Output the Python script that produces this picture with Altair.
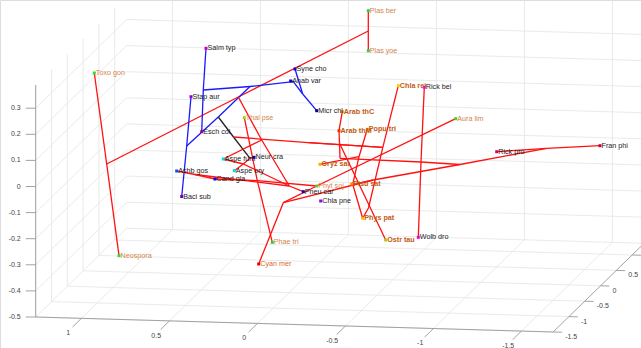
import altair as alt
import pandas as pd
import numpy as np

W, H = 641, 348

# ---------------- data: leaves (projected view coordinates) ----------------
leaf_names = ["Plas ber", "Plas yoe", "Toxo gon", "Neospora", "Salm typ", "Syne cho",
              "Anab var", "Micr chl", "Stap aur", "Thal pse", "Esch col", "Chla rei",
              "Rick bel", "Arab thC", "Arab thM", "Popu tri", "Aura lim", "Rick pro",
              "Fran phi", "Aspe fum", "Neur cra", "Aspe ory", "Ashb gos", "Cand gla",
              "Oryz sat", "Phyt soj", "Pisu sat", "Pneu car", "Baci sub", "Chla pne",
              "Phys pat", "Ostr tau", "Wolb dro", "Phae tri", "Cyan mer"]
leaf_u = [368.3, 368.3, 94.3, 119.0, 206.0, 295.0, 290.7, 316.7, 191.0, 244.3, 201.7, 398.3,
          424.3, 342.3, 339.0, 367.3, 455.7, 496.7, 600.0, 223.3, 254.0, 234.3, 176.7, 215.0,
          320.0, 316.7, 351.7, 303.3, 181.7, 320.7, 362.7, 385.7, 418.3, 272.3, 258.7]
leaf_v = [10.7, 50.7, 73.0, 255.7, 48.3, 69.0, 81.0, 110.7, 96.7, 117.7, 131.7, 85.7,
          87.3, 111.7, 130.7, 129.3, 118.7, 151.7, 145.7, 159.0, 157.3, 170.7, 171.0, 179.0,
          164.3, 186.0, 184.0, 191.7, 196.5, 201.0, 218.3, 240.0, 237.3, 242.3, 264.0]
marker_col = ["#33cc55", "#33cc55", "#33dd33", "#33dd33", "#cc00cc", "#0000ee",
              "#0000cc", "#000099", "#9900cc", "#88dd22", "#990099", "#ffcc00",
              "#ff00ff", "#ff8800", "#ee3300", "#ff8800", "#55cc22", "#dd0066",
              "#cc0033", "#00dddd", "#0000cc", "#00dddd", "#0055ff", "#0000ee",
              "#ffaa00", "#66cc22", "#ff8800", "#0000cc", "#6600cc", "#9900ff",
              "#ffbb00", "#aacc00", "#ee00cc", "#33cc33", "#ee0000"]
# label class: 0 = black, 1 = light orange, 2 = bold orange-brown, 3 = orange
label_cls = [1, 1, 1, 1, 0, 0, 0, 0, 0, 1, 0, 2,
             0, 2, 2, 2, 1, 0, 0, 0, 0, 0, 0, 0,
             2, 1, 2, 0, 0, 0, 2, 2, 0, 1, 3]

# internal (branching) nodes
inner_names = ["A1", "A2", "P1", "B1", "B2", "B3", "B4", "B5", "B6", "F1", "R1", "R2",
               "K1", "C1", "E1", "E2", "N1", "X1", "F2", "Y1", "D1", "V1", "V2", "PN",
               "Q1", "M1", "O1", "C2"]
inner_u = [106.7, 238.3, 368.3, 203.3, 250.0, 293.3, 302.7, 218.3, 186.7, 250.0, 421.0, 546.7,
           233.5, 382.8, 308.3, 283.3, 289.3, 261.7, 243.3, 195.0, 257.3, 340.0, 339.5, 352.7,
           460.0, 373.3, 359.0, 368.5]
inner_v = [164.0, 97.0, 31.0, 90.0, 86.5, 81.7, 94.0, 117.0, 146.0, 158.3, 162.0, 148.3,
           137.0, 147.3, 142.7, 202.7, 186.0, 140.0, 164.0, 174.5, 180.7, 158.3, 143.3, 184.3,
           164.5, 180.0, 156.7, 208.0]

edge_from = ["Toxo gon", "A1", "A1", "A2", "P1", "P1",
             "Salm typ", "B1", "B1", "B2", "B3", "Syne cho", "B3", "B4", "B2", "B5", "Stap aur", "B6",
             "B5", "K1",
             "Rick bel", "R1", "Rick pro", "R2",
             "A2", "X1", "N1", "Aspe fum", "Aspe fum", "Aspe ory", "F2", "F1", "F2",
             "Ashb gos", "Y1", "Y1", "Cand gla", "D1",
             "Thal pse", "D1", "K1", "E1", "Cyan mer", "E2", "E1",
             "E2", "Phyt soj", "E2", "M1", "Q1",
             "Chla rei", "C1", "C2",
             "Arab thC", "Arab thM", "V2", "V1", "R1", "V2", "PN", "Popu tri", "O1", "Oryz sat",
             "PN", "PN"]
edge_to = ["A1", "Neospora", "A2", "P1", "Plas ber", "Plas yoe",
           "B1", "Esch col", "B2", "B3", "Anab var", "B4", "B4", "Micr chl", "B5", "B6", "B6", "Baci sub",
           "K1", "F1",
           "R1", "Wolb dro", "R2", "Fran phi",
           "X1", "N1", "Pneu car", "X1", "F2", "F2", "F1", "Neur cra", "N1",
           "Y1", "Cand gla", "N1", "D1", "Phyt soj",
           "D1", "Phae tri", "E1", "C1", "E2", "E2", "C1",
           "Phyt soj", "Aura lim", "M1", "Q1", "R2",
           "C1", "C2", "Phys pat",
           "Arab thM", "V2", "V1", "R1", "Q1", "Ostr tau", "M1", "O1", "PN", "O1",
           "Phys pat", "Pisu sat"]
edge_col = (["red"] * 6 + ["blue"] * 12 + ["black"] * 2 + ["red"] * 4 +
            ["red"] * (len(edge_from) - 24))

# ---------------- axes of the 3-D box ----------------
x_ticks = [1, 0.5, 0, -0.5, -1, -1.5]
y_ticks = [-1.5, -1, -0.5, 0, 0.5, 1]
z_ticks = [-0.5, -0.4, -0.3, -0.2, -0.1, 0, 0.1, 0.2, 0.3]
XMAX, XMIN, YMIN, YMAX, ZMIN, ZMAX = 1.26, -1.68, -1.5, 1.38, -0.5, 0.389
FONT = "Liberation Sans"


def proj(X, Y, Z):
    u = 35.7 + (XMAX - X) * 176.0 + (Y - YMIN) * 31.6
    v = 317.0 + (XMAX - X) * 5.1 - (Y - YMIN) * 30.8 - (Z - ZMIN) * 261.0
    return u, v


def seg(p, q, kind):
    return {"u": p[0], "v": p[1], "u2": q[0], "v2": q[1], "kind": kind}


grid = []
for X in x_ticks:
    grid.append(seg(proj(X, YMIN, ZMIN), proj(X, YMAX, ZMIN), "grid"))
    grid.append(seg(proj(X, YMAX, ZMIN), proj(X, YMAX, ZMAX + 0.05), "grid"))
for Y in y_ticks:
    grid.append(seg(proj(XMAX, Y, ZMIN), proj(XMIN, Y, ZMIN), "grid"))
    grid.append(seg(proj(XMAX, Y, ZMIN), proj(XMAX, Y, ZMAX), "grid"))
for Z in z_ticks:
    grid.append(seg(proj(XMAX, YMIN, Z), proj(XMAX, YMAX, Z), "grid"))
    grid.append(seg(proj(XMAX, YMAX, Z), proj(XMIN, YMAX, Z), "grid"))
grid_df = pd.DataFrame(grid)

axes = [seg(proj(XMAX, YMIN, ZMIN), proj(XMAX, YMIN, ZMAX), "axis"),
        seg(proj(XMAX, YMIN, ZMIN), proj(XMIN, YMIN, ZMIN), "axis"),
        seg(proj(XMIN, YMIN, ZMIN), proj(XMIN, YMAX, ZMIN), "axis")]
labels = []
for Z in z_ticks:
    p = proj(XMAX, YMIN, Z)
    axes.append(seg(p, (p[0] - 10, p[1]), "axis"))
    labels.append({"u": p[0] - 15, "v": p[1], "t": f"{Z:g}", "a": "right"})
for X in x_ticks:
    p = proj(X, YMIN, ZMIN)
    q = proj(X, YMIN - 0.28, ZMIN)
    axes.append(seg(p, q, "axis"))
    r = proj(X, YMIN - 0.42, ZMIN)
    labels.append({"u": r[0], "v": r[1] + 2, "t": f"{X:g}", "a": "center"})
for Y in y_ticks:
    p = proj(XMIN, Y, ZMIN)
    q = proj(XMIN - 0.05, Y, ZMIN)
    axes.append(seg(p, q, "axis"))
    if p[0] + 20 < W:  # labels beyond the window edge are not visible
        labels.append({"u": p[0] + 12, "v": p[1] + 5, "t": f"{Y:g}", "a": "left"})
axes_df = pd.DataFrame(axes)
lab_df = pd.DataFrame(labels)

# ---------------- tree tables ----------------
pos = {n: (u, v) for n, u, v in zip(leaf_names, leaf_u, leaf_v)}
pos.update({n: (u, v) for n, u, v in zip(inner_names, inner_u, inner_v)})
edge_df = pd.DataFrame([{"u": pos[a][0], "v": pos[a][1], "u2": pos[b][0], "v2": pos[b][1], "c": c}
                        for a, b, c in zip(edge_from, edge_to, edge_col)])
leaf_df = pd.DataFrame({"name": leaf_names, "u": leaf_u, "v": leaf_v,
                        "mc": marker_col, "cls": label_cls})

xs = alt.Scale(domain=[0, W], range=[0, W], nice=False, zero=False)
ys = alt.Scale(domain=[0, H], range=[0, H], nice=False, zero=False)


def X_(f):
    return alt.X(f, type="quantitative", scale=xs, axis=None)


def Y_(f):
    return alt.Y(f, type="quantitative", scale=ys, axis=None)


grid_layer = alt.Chart(grid_df).mark_rule(color="#e4e4e4", strokeWidth=0.8).encode(
    x=X_("u"), y=Y_("v"), x2="u2", y2="v2")
axis_layer = alt.Chart(axes_df).mark_rule(color="#999999", strokeWidth=0.9).encode(
    x=X_("u"), y=Y_("v"), x2="u2", y2="v2")

tick_layers = []
for a in ["right", "center", "left"]:
    tick_layers.append(alt.Chart(lab_df[lab_df.a == a]).mark_text(
        font=FONT, fontSize=7, color="#444444", baseline="middle", align=a).encode(
        x=X_("u"), y=Y_("v"), text="t:N"))

edge_layer = alt.Chart(edge_df).mark_rule(strokeWidth=1.3).encode(
    x=X_("u"), y=Y_("v"), x2="u2", y2="v2",
    color=alt.Color("c:N", scale=alt.Scale(domain=["red", "blue", "black"],
                                           range=["#ff1111", "#1a1aff", "#222222"]), legend=None))

mark_layer = alt.Chart(leaf_df).mark_square(size=9, opacity=1).encode(
    x=X_("u"), y=Y_("v"), color=alt.Color("mc:N", scale=None))

lab_styles = [(0, "#1a1a1a", "normal"), (1, "#d4844c", "normal"),
              (2, "#c25a10", "bold"), (3, "#d46a30", "normal")]
text_layers = []
for cls, col, wt in lab_styles:
    text_layers.append(alt.Chart(leaf_df[leaf_df.cls == cls]).mark_text(
        font=FONT, fontSize=7.2, color=col, fontWeight=wt, align="left",
        baseline="middle", dx=1.5).encode(x=X_("u"), y=Y_("v"), text="name:N"))

chart = alt.layer(grid_layer, axis_layer, *tick_layers, edge_layer, mark_layer, *text_layers).properties(
    width=W, height=H, padding=0, autosize=alt.AutoSizeParams(type="none")
).configure_view(stroke=None).configure(background="white")

chart.save("out.html", embed_options={"renderer": "svg", "actions": False})
